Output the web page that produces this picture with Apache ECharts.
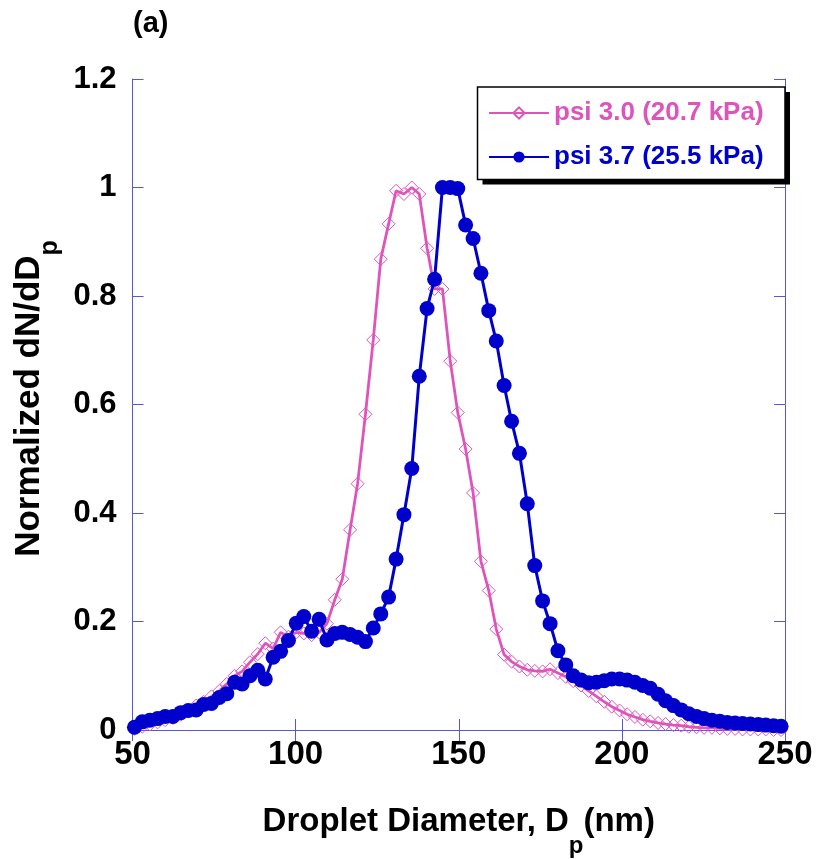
<!DOCTYPE html>
<html>
<head>
<meta charset="utf-8">
<script src="https://cdn.jsdelivr.net/npm/echarts@6/dist/echarts.min.js"></script>
<style>html,body{margin:0;padding:0;background:#fff}#c{width:816px;height:859px}</style>
</head>
<body>
<div id="c"></div>
<script>
// Droplet diameters (nm), shared by both series
const diameters = [50.6,53.0,55.3,57.7,60.0,62.4,64.8,67.1,69.5,71.8,
  74.2,76.6,78.9,81.3,83.6,86.0,88.4,90.7,93.1,95.4,
  97.8,100.2,102.5,104.9,107.2,109.6,112.0,114.3,116.7,119.0,
  121.4,123.8,126.1,128.5,130.8,133.2,135.6,137.9,140.3,142.6,
  145.0,147.4,149.7,152.1,154.4,156.8,159.2,161.5,163.9,166.2,
  168.6,171.0,173.3,175.7,178.0,180.4,182.8,185.1,187.5,189.8,
  192.2,194.6,196.9,199.3,201.6,204.0,206.4,208.7,211.1,213.4,
  215.8,218.2,220.5,222.9,225.2,227.6,230.0,232.3,234.7,237.0,
  239.4,241.8,244.1,246.5,248.8];

// psi 3.0 (20.7 kPa)
const psi30 = [0.002,0.006,0.010,0.014,0.018,0.022,0.028,0.034,0.045,0.052,
  0.062,0.072,0.085,0.100,0.108,0.125,0.140,0.160,0.150,0.180,
  0.172,0.180,0.178,0.175,0.180,0.196,0.240,0.278,0.369,0.454,
  0.582,0.719,0.868,0.933,0.994,0.988,1.000,0.988,0.888,0.813,
  0.813,0.680,0.585,0.518,0.437,0.311,0.257,0.186,0.139,0.126,
  0.117,0.111,0.109,0.108,0.112,0.105,0.098,0.090,0.082,0.072,
  0.062,0.052,0.043,0.036,0.029,0.024,0.019,0.016,0.013,0.011,
  0.009,0.008,0.006,0.005,0.004,0.004,0.003,0.002,0.002,0.001,
  0.001,0.001,0.001,0.000,0.000];

// psi 3.7 (25.5 kPa)
const psi37 = [0.005,0.015,0.018,0.021,0.025,0.025,0.032,0.036,0.037,0.047,
  0.049,0.060,0.067,0.088,0.085,0.100,0.110,0.094,0.134,0.145,
  0.165,0.197,0.209,0.182,0.204,0.166,0.178,0.180,0.176,0.171,
  0.163,0.188,0.214,0.245,0.315,0.397,0.482,0.652,0.777,0.831,
  1.000,1.000,0.998,0.931,0.906,0.842,0.773,0.717,0.635,0.569,
  0.510,0.417,0.303,0.238,0.196,0.146,0.120,0.100,0.092,0.087,
  0.088,0.091,0.094,0.094,0.092,0.088,0.082,0.077,0.066,0.054,
  0.045,0.037,0.030,0.025,0.021,0.018,0.016,0.014,0.013,0.012,
  0.011,0.010,0.009,0.008,0.007];

const xTickLabels = ['50','100','150','200','250'];
const yTickLabels = ['0','0.2','0.4','0.6','0.8','1','1.2'];
const seriesNames = ['psi 3.0 (20.7 kPa)','psi 3.7 (25.5 kPa)'];

const PINK = '#dd55bb', BLUE = '#0000cc', AXIS = '#5555dd';
const FONT = '"Liberation Sans", Arial, Helvetica, sans-serif';

const chart = echarts.init(document.getElementById('c'), null, {renderer:'canvas'});

const axisCommon = {
  axisLine:{show:true, lineStyle:{color:AXIS, width:1}},
  axisTick:{show:true, inside:true, length:11, lineStyle:{color:AXIS, width:1}},
  splitLine:{show:false}
};

const option = {
  animation:false,
  backgroundColor:'#fff',
  textStyle:{fontFamily:FONT},
  grid:{left:132.5, right:31, top:79, bottom:129, containLabel:false, outerBoundsMode:'none'},
  graphic:[
    {type:'text', left:133, top:9, z:10,
      style:{text:'(a)', font:'bold 29px '+FONT, fill:'#000'}},
    {type:'rect', z:10, shape:{x:482.5, y:92, width:307.5, height:92.5}, style:{fill:'#000'}},
    {type:'rect', z:11, shape:{x:477.5, y:87, width:307.5, height:92.5},
      style:{fill:'#fff', stroke:'#000', lineWidth:1.5}}
  ],
  legend:{
    z:20,
    orient:'vertical', left:477, top:87,
    padding:[13,10,10,11],
    itemWidth:60, itemHeight:14, itemGap:18,
    backgroundColor:'rgba(0,0,0,0)', borderWidth:0,
    textStyle:{fontSize:26, fontWeight:'bold', fontFamily:FONT},
    data:[
      {name:seriesNames[0], textStyle:{color:PINK}},
      {name:seriesNames[1], textStyle:{color:BLUE}}
    ]
  },
  xAxis:[
    Object.assign({type:'value', min:50, max:250, interval:50, position:'bottom',
      name:'Droplet Diameter, D{sub|p}(nm)', nameLocation:'middle', nameGap:56,
      nameTextStyle:{fontSize:33, fontWeight:'bold', color:'#000', fontFamily:FONT, lineHeight:34,
        rich:{sub:{fontSize:24, fontWeight:'bold', color:'#000', fontFamily:FONT, verticalAlign:'bottom', lineHeight:72}}},
      axisLabel:{show:true, margin:8, fontSize:33, fontWeight:'bold', color:'#000', fontFamily:FONT,
        formatter:(v,i)=>xTickLabels[i]}
    }, axisCommon),
    Object.assign({type:'value', min:50, max:250, interval:50, position:'top',
      axisLabel:{show:false}}, axisCommon)
  ],
  yAxis:[
    Object.assign({type:'value', min:0, max:1.2, interval:0.2, position:'left',
      name:'Normalized dN/dD{sub|p}', nameLocation:'middle', nameGap:63, nameRotate:90,
      nameTextStyle:{fontSize:35, fontWeight:'bold', color:'#000', fontFamily:FONT, lineHeight:36,
        padding:[0,0,0,12],
        rich:{sub:{fontSize:25, fontWeight:'bold', color:'#000', fontFamily:FONT, verticalAlign:'bottom', lineHeight:66}}},
      axisLabel:{show:true, margin:16, fontSize:31, fontWeight:'bold', color:'#000', fontFamily:FONT,
        formatter:(v,i)=>yTickLabels[i]}
    }, axisCommon),
    Object.assign({type:'value', min:0, max:1.2, interval:0.2, position:'right',
      axisLabel:{show:false}}, axisCommon)
  ],
  series:[
    {name:seriesNames[0], type:'line', xAxisIndex:0, yAxisIndex:0,
      data:diameters.map((d,i)=>[d, psi30[i]]),
      symbol:'diamond', symbolSize:[13,13], showAllSymbol:true,
      lineStyle:{color:PINK, width:2.8},
      itemStyle:{color:'rgba(255,255,255,0)', borderColor:PINK, borderWidth:1},
      z:2},
    {name:seriesNames[1], type:'line', xAxisIndex:0, yAxisIndex:0,
      data:diameters.map((d,i)=>[d, psi37[i]]),
      symbol:'circle', symbolSize:15, showAllSymbol:true,
      lineStyle:{color:BLUE, width:3},
      itemStyle:{color:BLUE, borderColor:BLUE, borderWidth:0},
      z:3}
  ]
};
chart.setOption(option);
</script>
</body>
</html>
